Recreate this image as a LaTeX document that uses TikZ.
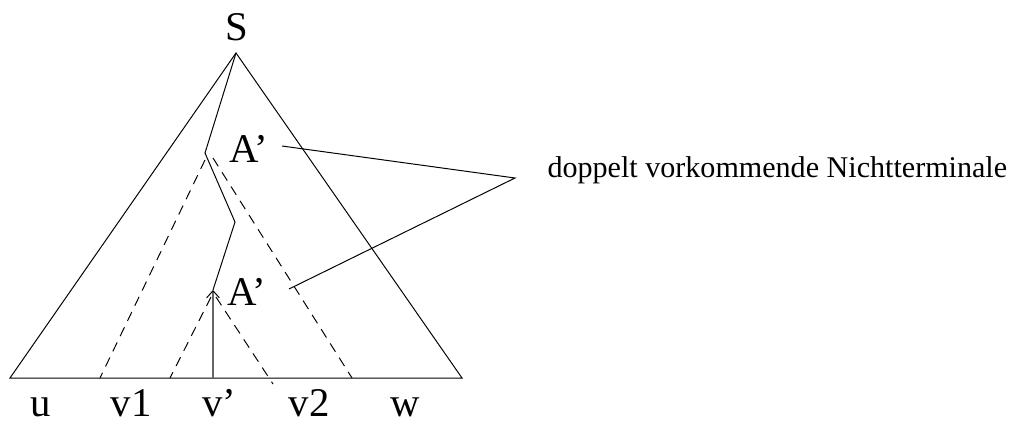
\documentclass[tikz,border=0pt]{standalone}
\usepackage{fontspec}
\setmainfont{Liberation Serif}
\usetikzlibrary{arrows.meta}

\tikzset{
  lbl/.style={inner sep=0pt, anchor=base, font=\fontsize{29}{31}\selectfont},
  dsh/.style={dashed, dash pattern=on 7pt off 5pt},
}

\begin{document}
\begin{tikzpicture}[x=0.025cm, y=-0.025cm, line width=0.7pt]
        \useasboundingbox (0,0) rectangle (1011,423);

        % Punkte des Baums
        \coordinate (top) at (236,53);
        \coordinate (bl) at (10,378);
        \coordinate (br) at (462,378);
        \coordinate (k1) at (205,153);
        \coordinate (k2) at (235,222);
        \coordinate (k3) at (213,290);
        \coordinate (f) at (213,378);

        % Grosses Dreieck
        \draw (bl) -- (top) -- (br) -- cycle;

        % Pfad von S nach unten
        \draw (top) -- (k1) -- (k2) -- (k3);
        \draw[black!60, line width=1pt, -{Straight Barb[length=5pt, width=9pt, black, line width=0.7pt]}] (f) -- (k3);

        % Gestrichelte Teilbaeume
        \coordinate (d1) at (100,378);
        \coordinate (d2) at (352,378);
        \coordinate (d3) at (170,378);
        \coordinate (d4) at (273,384);
        \draw[dsh] (205,160) -- (d1);
        \draw[dsh] (213,158) -- (d2);
        \draw[dsh] (211,297) -- (d3);
        \draw[dsh] (216,297) -- (d4);

        \node[lbl] (S) at (237,40) {S};
        \node[lbl, anchor=base west] (Aup) at (229,162) {A’};
        \node[lbl, anchor=base west] (Alow) at (227,305) {A’};

        \node[lbl] (u) at (41,416) {u};
        \node[lbl] (v1) at (131,416) {v1};
        \node[lbl] (vs) at (219,416) {v’};
        \node[lbl] (v2) at (309,416) {v2};
        \node[lbl] (w) at (405,416) {w};

        % Beschriftung rechts
        \node[anchor=base west, inner sep=0pt, font=\fontsize{21.4}{24}\selectfont] (txt) at (547,177) {doppelt vorkommende Nichtterminale};
        \coordinate (m) at (515,178);
        \coordinate (e1) at (282,146);
        \coordinate (e2) at (289,289);
        \draw (e1) -- (m) -- (e2);
\end{tikzpicture}
\end{document}
